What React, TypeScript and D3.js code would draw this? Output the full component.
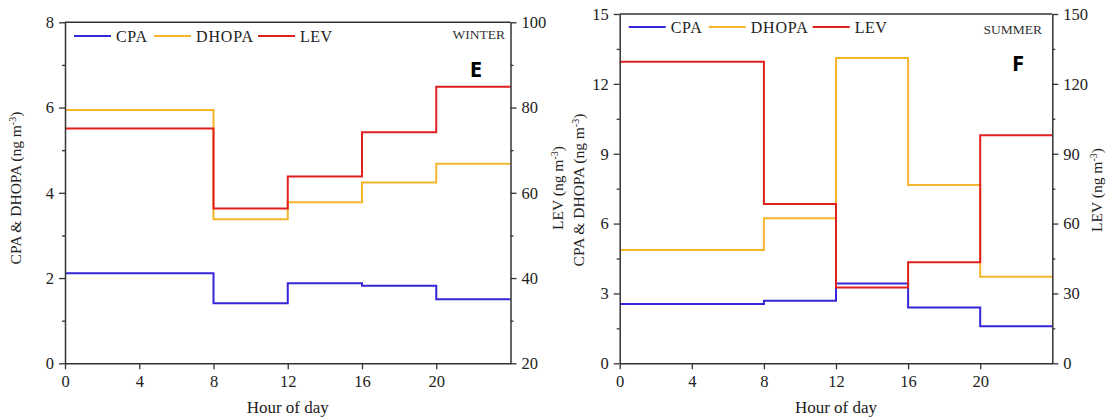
import React, { useEffect, useRef } from 'react'
import * as d3 from 'd3'

// hour blocks (each value holds until the next block start, last one until 24)
const hours = [0, 8, 12, 16, 20]
const endHour = 24
const hourTicks = [0, 4, 8, 12, 16, 20]

const winterCPA = [2.11, 1.41, 1.88, 1.82, 1.5]
const winterDHOPA = [5.94, 3.38, 3.78, 4.24, 4.68]
const winterLEV = [75.1, 56.3, 63.8, 74.2, 84.9]

const summerCPA = [2.55, 2.69, 3.43, 2.4, 1.59]
const summerDHOPA = [4.87, 6.23, 13.11, 7.66, 3.72]
const summerLEV = [129.5, 68.4, 32.6, 43.4, 97.9]

const winterLeftTicks = [0, 2, 4, 6, 8]
const winterLeftMinor = [1, 3, 5, 7]
const winterRightTicks = [20, 40, 60, 80, 100]
const winterRightMinor = [30, 50, 70, 90]

const summerLeftTicks = [0, 3, 6, 9, 12, 15]
const summerLeftMinor = [1.5, 4.5, 7.5, 10.5, 13.5]
const summerRightTicks = [0, 30, 60, 90, 120, 150]
const summerRightMinor = [15, 45, 75, 105, 135]

const seriesNames = ['CPA', 'DHOPA', 'LEV']
const colors = { CPA: '#3526d8', DHOPA: '#f4b52c', LEV: '#e01f1f' }

const AXIS = '#333'
const SERIF = '"Liberation Serif", "DejaVu Serif", serif'

const panels = [
  {
    left: 65, right: 510.5, top: 22.3, bottom: 363.3,
    leftDomain: [0, 8], rightDomain: [20, 100],
    leftTicks: winterLeftTicks, leftMinor: winterLeftMinor,
    rightTicks: winterRightTicks, rightMinor: winterRightMinor,
    cpa: winterCPA, dhopa: winterDHOPA, lev: winterLEV,
    season: 'WINTER', letter: 'E',
    leftLabelX: 21, rightLabelX: 563, labelY: 188,
    legendY: 36, seasonX: 505, seasonY: 39, letterX: 476, letterY: 77,
  },
  {
    left: 619.7, right: 1052.3, top: 14, bottom: 363.3,
    leftDomain: [0, 15], rightDomain: [0, 150],
    leftTicks: summerLeftTicks, leftMinor: summerLeftMinor,
    rightTicks: summerRightTicks, rightMinor: summerRightMinor,
    cpa: summerCPA, dhopa: summerDHOPA, lev: summerLEV,
    season: 'SUMMER', letter: 'F',
    leftLabelX: 584, rightLabelX: 1102, labelY: 190,
    legendY: 27, seasonX: 1042, seasonY: 34, letterX: 1018, letterY: 71,
  },
]

function unitLabel(sel, x, y, name) {
  const t = sel.append('text')
    .attr('transform', `translate(${x},${y}) rotate(-90)`)
    .attr('text-anchor', 'middle')
    .attr('font-family', SERIF)
    .attr('font-size', 15.5)
    .attr('fill', '#222')
  t.append('tspan').text(`${name} (ng m`)
  t.append('tspan').attr('font-size', 10).attr('baseline-shift', 'super').text('-3')
  t.append('tspan').text(')')
}

function styleAxis(g) {
  g.selectAll('.domain').attr('stroke', AXIS).attr('stroke-width', 1.5)
  g.selectAll('.tick line').attr('stroke', AXIS).attr('stroke-width', 1.3)
  g.selectAll('text').attr('font-family', SERIF).attr('font-size', 16.5).attr('fill', '#222')
}

function drawPanel(svg, p) {
  const x = d3.scaleLinear().domain([0, endHour]).range([p.left, p.right])
  const yL = d3.scaleLinear().domain(p.leftDomain).range([p.bottom, p.top])
  const yR = d3.scaleLinear().domain(p.rightDomain).range([p.bottom, p.top])

  const g = svg.append('g')

  // series
  const line = (scale) => d3.line()
    .x(d => x(d[0]))
    .y(d => scale(d[1]))
    .curve(d3.curveStepAfter)
  const pts = (vals) => [...hours.map((h, i) => [h, vals[i]]), [endHour, vals[vals.length - 1]]]

  const series = [
    { name: 'CPA', vals: p.cpa, scale: yL },
    { name: 'DHOPA', vals: p.dhopa, scale: yL },
    { name: 'LEV', vals: p.lev, scale: yR },
  ]
  series.forEach(s => {
    g.append('path')
      .attr('d', line(s.scale)(pts(s.vals)))
      .attr('fill', 'none')
      .attr('stroke', colors[s.name])
      .attr('stroke-width', 2)
  })

  // top frame line
  g.append('line')
    .attr('x1', p.left).attr('x2', p.right).attr('y1', p.top).attr('y2', p.top)
    .attr('stroke', AXIS).attr('stroke-width', 1.5)

  // axes
  g.append('g').attr('transform', `translate(0,${p.bottom})`)
    .call(d3.axisBottom(x).tickValues(hourTicks).tickSize(6).tickSizeOuter(0).tickPadding(6))
    .call(styleAxis)

  g.append('g').attr('transform', `translate(${p.left},0)`)
    .call(d3.axisLeft(yL).tickValues(p.leftTicks).tickSize(6).tickSizeOuter(0).tickPadding(5))
    .call(styleAxis)
  g.append('g').attr('transform', `translate(${p.left},0)`)
    .call(d3.axisLeft(yL).tickValues(p.leftMinor).tickSize(3).tickFormat(() => ''))
    .call(styleAxis)
    .select('.domain').remove()

  g.append('g').attr('transform', `translate(${p.right},0)`)
    .call(d3.axisRight(yR).tickValues(p.rightTicks).tickSize(6).tickSizeOuter(0).tickPadding(5))
    .call(styleAxis)
  g.append('g').attr('transform', `translate(${p.right},0)`)
    .call(d3.axisRight(yR).tickValues(p.rightMinor).tickSize(3).tickFormat(() => ''))
    .call(styleAxis)
    .select('.domain').remove()

  // axis titles
  g.append('text')
    .attr('x', (p.left + p.right) / 2).attr('y', 413)
    .attr('text-anchor', 'middle')
    .attr('font-family', SERIF).attr('font-size', 17).attr('fill', '#222')
    .text('Hour of day')
  unitLabel(g, p.leftLabelX, p.labelY, 'CPA & DHOPA')
  unitLabel(g, p.rightLabelX, p.labelY, 'LEV')

  // legend
  const lx = [p.left + 9, p.left + 89, p.left + 193]
  const textW = [31, 57, 32]
  seriesNames.forEach((n, i) => {
    const lg = g.append('g').attr('transform', `translate(${lx[i]},${p.legendY})`)
    lg.append('line').attr('x1', 0).attr('x2', 37).attr('y1', 0).attr('y2', 0)
      .attr('stroke', colors[n]).attr('stroke-width', 2)
    lg.append('text').attr('x', 42).attr('y', 5.5)
      .attr('font-family', SERIF).attr('font-size', 16).attr('fill', '#222')
      .attr('textLength', textW[i])
      .text(n)
  })

  g.append('text')
    .attr('x', p.seasonX).attr('y', p.seasonY)
    .attr('text-anchor', 'end')
    .attr('font-family', SERIF).attr('font-size', 13.5).attr('fill', '#333')
    .text(p.season)

  g.append('text')
    .attr('x', p.letterX).attr('y', p.letterY)
    .attr('text-anchor', 'middle')
    .attr('font-family', '"Open Sans", "Liberation Sans", sans-serif')
    .attr('font-weight', 700).attr('font-size', 22).attr('fill', '#000')
    .text(p.letter)
}

export default function App() {
  const ref = useRef(null)

  useEffect(() => {
    const el = ref.current
    if (!el) return
    const svg = d3.select(el)
    svg.selectAll('*').remove()
    panels.forEach(p => drawPanel(svg, p))
  }, [])

  return (
    <svg
      ref={ref}
      width={1111}
      height={419}
      style={{ position: 'absolute', left: 0, top: 0, background: '#fff' }}
    />
  )
}
